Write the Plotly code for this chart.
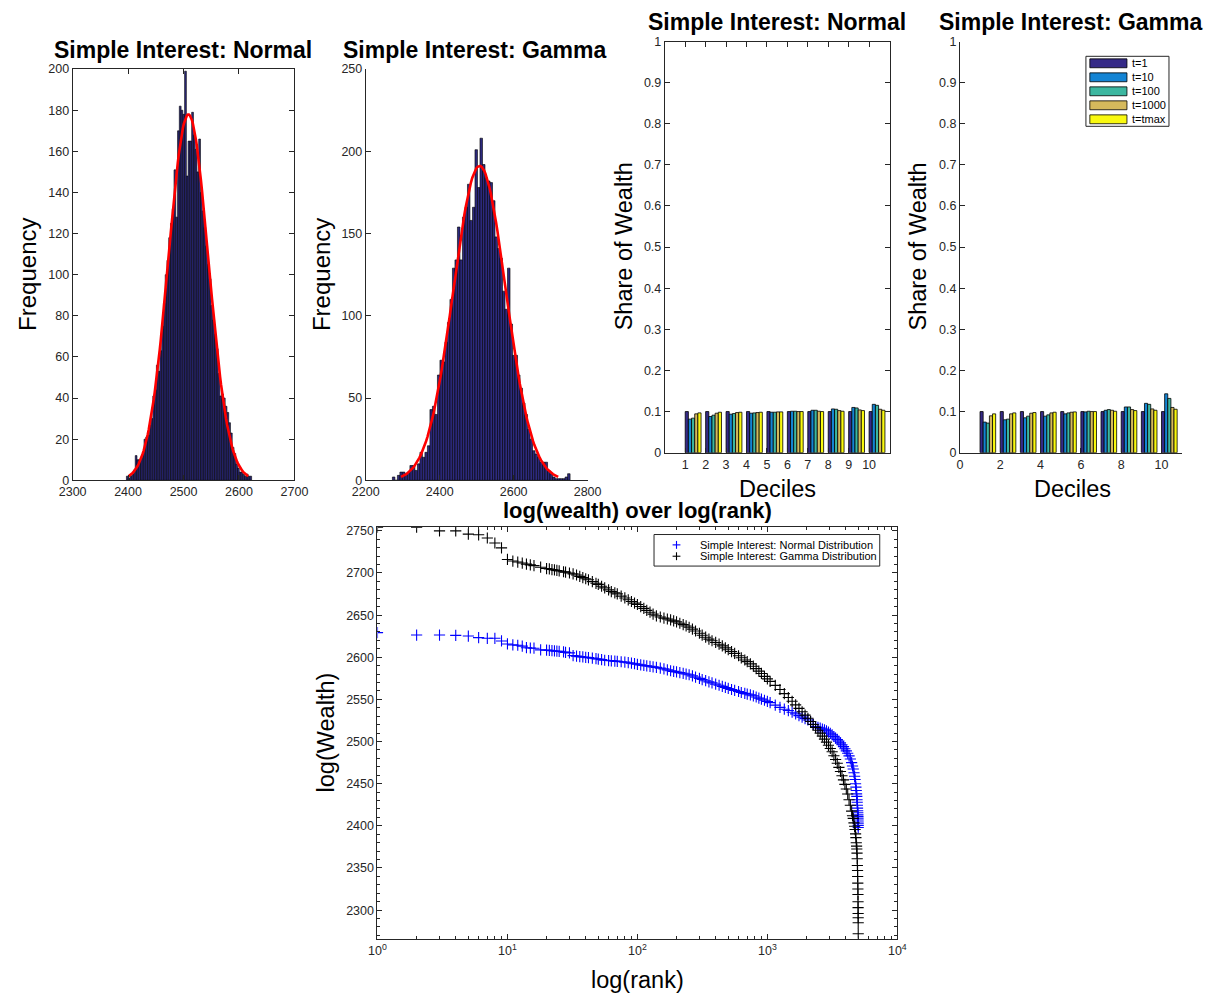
import numpy as np
import plotly.graph_objects as go

# ---------------- data ----------------
# Histogram (Simple Interest: Normal): 71 bins
norm_bin_start = 2397.0
norm_bin_width = 3.18
norm_counts = [2, 1, 2, 3, 5, 12, 10, 10, 11, 13, 20, 21, 22, 27, 30,
               41, 44, 56, 53, 63, 75, 86, 100, 107, 118, 125, 132, 151, 128, 170,
               182, 180, 178, 199, 148, 165, 165, 179, 168, 161, 150, 166, 140, 131, 123,
               114, 105, 98, 85, 78, 71, 64, 52, 41, 42, 40, 36, 33, 28, 23,
               16, 13, 8, 6, 4, 4, 3, 2, 3, 2, 2]

# Histogram (Simple Interest: Gamma): 71 bins
gamma_bin_start = 2272.0
gamma_bin_width = 6.77
gamma_counts = [2, 0, 3, 5, 5, 4, 5, 9, 9, 6,
                10, 17, 14, 17, 21, 43, 45, 40, 64, 73,
                72, 84, 96, 110, 129, 134, 154, 134, 160, 166,
                180, 158, 166, 201, 178, 208, 192, 184, 182, 181,
                170, 148, 141, 135, 115, 104, 129, 95, 76, 76,
                64, 56, 47, 40, 31, 25, 18, 16, 14, 11,
                11, 11, 6, 4, 2, 1, 1, 1, 1, 2, 4]

# Decile shares of wealth
deciles = [1, 2, 3, 4, 5, 6, 7, 8, 9, 10]
series_names = ["t=1", "t=10", "t=100", "t=1000", "t=tmax"]
series_colors = ["#352a87", "#1384d4", "#3cb7a0", "#d5b95c", "#f9f90f"]

normal_t1 = [0.100, 0.100, 0.100, 0.100, 0.100, 0.100, 0.100, 0.100, 0.100, 0.100]
normal_t10 = [0.0816, 0.0880, 0.0936, 0.0960, 0.0984, 0.1008, 0.1032, 0.1064, 0.1100, 0.1176]
normal_t100 = [0.0840, 0.0912, 0.0952, 0.0968, 0.0984, 0.1008, 0.1032, 0.1056, 0.1088, 0.1152]
normal_t1000 = [0.0944, 0.0960, 0.0976, 0.0976, 0.0992, 0.1000, 0.1008, 0.1024, 0.1040, 0.1056]
normal_tmax = [0.0968, 0.0984, 0.0984, 0.0984, 0.0992, 0.1000, 0.1000, 0.1008, 0.1024, 0.1032]

gamma_t1 = [0.100, 0.100, 0.100, 0.100, 0.100, 0.100, 0.100, 0.100, 0.100, 0.100]
gamma_t10 = [0.0744, 0.0800, 0.0848, 0.0888, 0.0944, 0.0992, 0.1032, 0.1112, 0.1200, 0.1432]
gamma_t100 = [0.0720, 0.0816, 0.0888, 0.0920, 0.0968, 0.1008, 0.1048, 0.1112, 0.1176, 0.1320]
gamma_t1000 = [0.0896, 0.0944, 0.0960, 0.0968, 0.0984, 0.1000, 0.1032, 0.1048, 0.1064, 0.1100]
gamma_tmax = [0.0944, 0.0968, 0.0976, 0.0984, 0.0992, 0.1000, 0.1008, 0.1024, 0.1032, 0.1056]

# Rank plot (rank, wealth)
ranks = [1, 2, 3, 4, 5, 6, 7, 8, 9, 10, 11, 12, 13, 14, 15, 16,
         18, 20, 21, 22, 23, 24, 25, 27, 28, 30,
         32, 34, 36, 38, 40, 42, 45, 48, 50, 53,
         56, 60, 63, 67, 70, 75, 80, 85, 90, 95,
         100, 106, 112, 118, 125, 132, 140, 150, 160, 170,
         180, 190, 200, 212, 225, 237, 250, 265, 280, 300,
         315, 335, 355, 375, 400, 425, 450, 475, 500, 530,
         560, 600, 630, 670, 700, 740, 780, 820, 860, 900,
         950, 1000, 1050, 1150, 1250, 1350, 1450, 1550, 1650, 1750,
         1850, 1950, 2050, 2150, 2250, 2350, 2450, 2550, 2650, 2750,
         2850, 2950, 3050, 3150, 3250, 3350, 3450, 3550, 3650, 3750,
         3850, 3950, 4050, 4150, 4250, 4350, 4450, 4520, 4580, 4640,
         4690, 4730, 4770, 4800, 4830, 4855, 4875, 4895, 4910, 4925,
         4940, 4952, 4962, 4970, 4977, 4983, 4988, 4992, 4995, 4998,
         5000]

wealth_normal = [2629.2, 2626.4, 2626.4, 2626.0, 2625.2, 2623.3, 2622.5, 2622.5, 2619.4, 2615.8,
                 2614.7, 2614.3, 2613.2, 2611.4, 2611.0, 2610.8,
                 2608.8, 2608.5, 2608.2, 2607.8, 2607.5, 2607.2, 2607.0, 2606.3, 2605.8, 2605.2,
                 2602.0, 2601.4, 2600.8, 2600.4, 2600.0, 2599.6, 2599.0, 2598.3, 2597.9, 2597.2,
                 2596.5, 2596.1, 2595.8, 2595.5, 2595.2, 2594.7, 2594.2, 2593.6, 2593.0, 2592.4,
                 2591.7, 2591.0, 2590.3, 2589.8, 2589.3, 2588.6, 2588.0, 2587.1, 2586.2, 2585.1,
                 2584.0, 2583.3, 2582.6, 2581.8, 2581.0, 2580.1, 2579.3, 2577.9, 2576.5, 2575.0,
                 2573.6, 2572.2, 2570.8, 2569.6, 2568.2, 2566.8, 2565.5, 2564.2, 2563.0, 2561.8,
                 2560.7, 2559.4, 2558.2, 2557.2, 2556.4, 2555.4, 2554.3, 2552.9, 2551.6, 2550.4,
                 2549.0, 2547.6, 2546.2, 2543.2, 2540.6, 2538.4, 2536.8, 2534.8, 2532.8, 2530.8,
                 2529.0, 2527.2, 2525.6, 2523.8, 2520.4, 2517.8, 2516.9, 2515.9, 2514.9, 2513.9,
                 2512.8, 2511.3, 2509.8, 2508.0, 2506.0, 2504.2, 2502.5, 2500.7, 2498.5, 2496.3,
                 2494.0, 2491.5, 2489.0, 2486.2, 2483.0, 2479.4, 2475.0, 2471.0, 2467.5, 2463.0,
                 2458.8, 2455.0, 2450.0, 2446.0, 2442.0, 2438.0, 2435.0, 2431.0, 2428.0, 2424.5,
                 2421.0, 2418.0, 2415.5, 2413.0, 2411.0, 2409.0, 2407.0, 2404.5, 2402.5, 2400.5,
                 2398.0]

wealth_gamma = [2754.3, 2754.3, 2750.0, 2750.0, 2746.1, 2745.3, 2741.5, 2735.6, 2729.8, 2716.1,
                2714.2, 2713.0, 2711.8, 2710.5, 2709.6, 2708.8,
                2706.9, 2705.3, 2704.8, 2704.1, 2703.6, 2703.0, 2702.4, 2701.5, 2701.0, 2700.0,
                2699.0, 2697.6, 2696.0, 2694.6, 2693.2, 2691.9, 2689.8, 2687.8, 2686.5, 2684.3,
                2682.3, 2680.0, 2678.0, 2676.5, 2675.2, 2672.6, 2670.4, 2668.2, 2666.2, 2664.3,
                2662.6, 2660.2, 2658.0, 2655.6, 2653.5, 2651.2, 2649.2, 2647.8, 2646.5, 2645.4,
                2644.3, 2643.2, 2642.0, 2640.4, 2638.7, 2637.2, 2635.6, 2633.4, 2631.2, 2628.5,
                2626.2, 2623.8, 2621.5, 2619.6, 2617.6, 2615.5, 2613.5, 2611.2, 2609.0, 2606.8,
                2604.6, 2601.8, 2599.4, 2596.8, 2594.8, 2592.2, 2589.4, 2586.5, 2583.6, 2580.8,
                2577.4, 2574.4, 2571.4, 2566.7, 2561.8, 2556.9, 2552.2, 2547.8, 2543.5, 2539.4,
                2535.3, 2531.4, 2527.6, 2523.9, 2520.3, 2516.8, 2513.4, 2510.0, 2506.5, 2502.9,
                2499.3, 2495.6, 2491.8, 2487.9, 2483.2, 2478.8, 2474.2, 2469.4, 2464.5, 2459.5,
                2454.5, 2449.2, 2443.7, 2437.8, 2431.0, 2424.5, 2417.5, 2412.0, 2408.9, 2403.5,
                2399.5, 2395.6, 2390.5, 2386.0, 2380.0, 2376.0, 2372.5, 2367.6, 2361.0, 2353.0,
                2347.0, 2340.0, 2332.0, 2325.0, 2318.5, 2310.0, 2303.0, 2296.0, 2291.0, 2285.0,
                2272.0]

rank_legend = ["Simple Interest: Normal Distribution", "Simple Interest: Gamma Distribution"]
rank_colors = ["#0000ff", "#000000"]

# ---------------- figure ----------------
W, H = 1225, 1002
FONT = "Liberation Sans, Arial, Helvetica, sans-serif"
AX = "#262626"
TICK = 12.5


def fx(px):
    return px / W


def fy(py):
    return 1 - py / H


fig = go.Figure()


def hist_traces(start, width, counts, xa, ya):
    counts = np.asarray(counts, dtype=float)
    centers = start + width * (np.arange(len(counts)) + 0.5)
    fig.add_trace(go.Bar(x=centers, y=counts, width=width, xaxis=xa, yaxis=ya,
                         marker=dict(color="#2d2a7e", line=dict(color="black", width=0.6)),
                         showlegend=False))
    n = counts.sum()
    mu = (centers * counts).sum() / n
    sd = np.sqrt(((centers - mu) ** 2 * counts).sum() / (n - 1))
    xs = np.linspace(mu - 3 * sd, mu + 3 * sd, 120)
    ys = n * width * np.exp(-0.5 * ((xs - mu) / sd) ** 2) / (sd * np.sqrt(2 * np.pi))
    fig.add_trace(go.Scatter(x=xs, y=ys, mode="lines", xaxis=xa, yaxis=ya,
                             line=dict(color="#ff0000", width=2.6), showlegend=False))


hist_traces(norm_bin_start, norm_bin_width, norm_counts, "x", "y")
hist_traces(gamma_bin_start, gamma_bin_width, gamma_counts, "x2", "y2")

bar_w = 0.155
normal_series = [normal_t1, normal_t10, normal_t100, normal_t1000, normal_tmax]
gamma_series = [gamma_t1, gamma_t10, gamma_t100, gamma_t1000, gamma_tmax]
for k, (name, col) in enumerate(zip(series_names, series_colors)):
    fig.add_trace(go.Bar(x=deciles, y=normal_series[k], width=bar_w, offset=k * bar_w,
                         xaxis="x3", yaxis="y3", name=name, showlegend=False,
                         marker=dict(color=col, line=dict(color="black", width=0.8))))
for k, (name, col) in enumerate(zip(series_names, series_colors)):
    fig.add_trace(go.Bar(x=deciles, y=gamma_series[k], width=bar_w, offset=k * bar_w,
                         xaxis="x4", yaxis="y4", name=name, showlegend=False,
                         marker=dict(color=col, line=dict(color="black", width=0.8))))

for vals, name, col in zip([wealth_normal, wealth_gamma], rank_legend, rank_colors):
    fig.add_trace(go.Scatter(x=ranks, y=vals, mode="markers", xaxis="x5", yaxis="y5",
                             name=name, showlegend=False,
                             marker=dict(symbol="cross-thin", size=8, color=col,
                                         line=dict(width=1.1, color=col))))

base = dict(showline=True, linecolor=AX, linewidth=1, ticks="inside", ticklen=5,
            tickcolor=AX, tickfont=dict(family=FONT, size=TICK, color=AX),
            showgrid=False, zeroline=False, fixedrange=True)

layout = dict(
    width=W, height=H, margin=dict(l=0, r=0, t=0, b=0, pad=0), autosize=False,
    paper_bgcolor="white", plot_bgcolor="white", barmode="overlay", showlegend=False,
    font=dict(family=FONT, color=AX),
    xaxis=dict(base, domain=[fx(60), fx(287)], range=[2300, 2700], dtick=100, mirror="ticks", anchor="y"),
    yaxis=dict(base, domain=[fy(480), fy(63)], range=[0, 200], dtick=20, mirror="ticks", anchor="x"),
    xaxis2=dict(base, domain=[fx(360), fx(587)], range=[2200, 2800], dtick=200, anchor="y2"),
    yaxis2=dict(base, domain=[fy(480), fy(63)], range=[0, 250], dtick=50, anchor="x2"),
    xaxis3=dict(base, domain=[fx(666), fx(896)], range=[0, 11], tickvals=deciles, mirror="ticks", anchor="y3"),
    yaxis3=dict(base, domain=[fy(452), fy(35)], range=[0, 1], dtick=0.1, mirror="ticks", anchor="x3"),
    xaxis4=dict(base, domain=[fx(968), fx(1195)], range=[0, 11], tickvals=[0, 2, 4, 6, 8, 10], anchor="y4"),
    yaxis4=dict(base, domain=[fy(452), fy(35)], range=[0, 1], dtick=0.1, anchor="x4"),
    xaxis5=dict(base, domain=[fx(372), fx(904)], type="log", range=[0, 4],
                tickvals=[1, 10, 100, 1000, 10000],
                ticktext=["10<sup>0</sup>", "10<sup>1</sup>", "10<sup>2</sup>", "10<sup>3</sup>", "10<sup>4</sup>"],
                mirror="ticks", anchor="y5",
                minor=dict(ticks="inside", ticklen=3, tickcolor=AX,
                           tickvals=[m * 10 ** d for d in range(4) for m in range(2, 10)])),
    yaxis5=dict(base, domain=[fy(945), fy(527)], range=[2266, 2755],
                tickvals=list(range(2300, 2751, 50)), mirror="ticks", anchor="x5",
                minor=dict(ticks="inside", ticklen=3, tickcolor=AX, dtick=10)),
)
fig.update_layout(**layout)

annotations = []
shapes = []


def text(x, y, s, size, angle=0, anchor="center", color="black"):
    annotations.append(dict(x=fx(x), y=fy(y), xref="paper", yref="paper", text=s,
                            showarrow=False, textangle=angle, xanchor=anchor, yanchor="middle",
                            font=dict(family=FONT, size=size, color=color)))


def rect(x0, y0, x1, y1, fill, line="black", lw=1):
    shapes.append(dict(type="rect", xref="paper", yref="paper", x0=fx(x0), x1=fx(x1),
                       y0=fy(y1), y1=fy(y0), fillcolor=fill, line=dict(color=line, width=lw),
                       layer="above"))


def seg(x0, y0, x1, y1, color, lw=1.1):
    shapes.append(dict(type="line", xref="paper", yref="paper", x0=fx(x0), x1=fx(x1),
                       y0=fy(y0), y1=fy(y1), line=dict(color=color, width=lw), layer="above"))


# titles and axis labels
text(173, 44, "<b>Simple Interest: Normal</b>", 23)
text(472, 44, "<b>Simple Interest: Gamma</b>", 23)
text(781, 15, "<b>Simple Interest: Normal</b>", 23)
text(1082, 15, "<b>Simple Interest: Gamma</b>", 23)
text(638, 511, "<b>log(wealth) over log(rank)</b>", 22)
text(14, 271, "Frequency", 24, angle=-90)
text(314, 271, "Frequency", 24, angle=-90)
text(624, 243, "Share of Wealth", 23.5, angle=-90)
text(925, 243, "Share of Wealth", 23.5, angle=-90)
text(781, 489, "Deciles", 23.5)
text(1083, 489, "Deciles", 23.5)
text(319, 736, "log(Wealth)", 23.5, angle=-90)
text(638, 987, "log(rank)", 23.5)

# legend of the decile bar chart (drawn as shapes + text)
rect(1097, 50, 1182, 121, "white", AX, 1)
for k, (name, col) in enumerate(zip(series_names, series_colors)):
    cy = 57.1 + 14.2 * k
    rect(1101, cy - 4.5, 1139, cy + 4.5, col, "black", 0.8)
    text(1142, cy, name, 11, anchor="left")

# legend of the rank plot
rect(655, 535, 886, 567, "white", AX, 1)
for k, (name, col) in enumerate(zip(rank_legend, rank_colors)):
    cy = 545.5 + 11.5 * k
    seg(674, cy, 682, cy, col)
    seg(678, cy - 4, 678, cy + 4, col)
    text(700, cy, name, 11, anchor="left")

fig.update_layout(annotations=annotations, shapes=shapes)

fig.write_html("out.html")
